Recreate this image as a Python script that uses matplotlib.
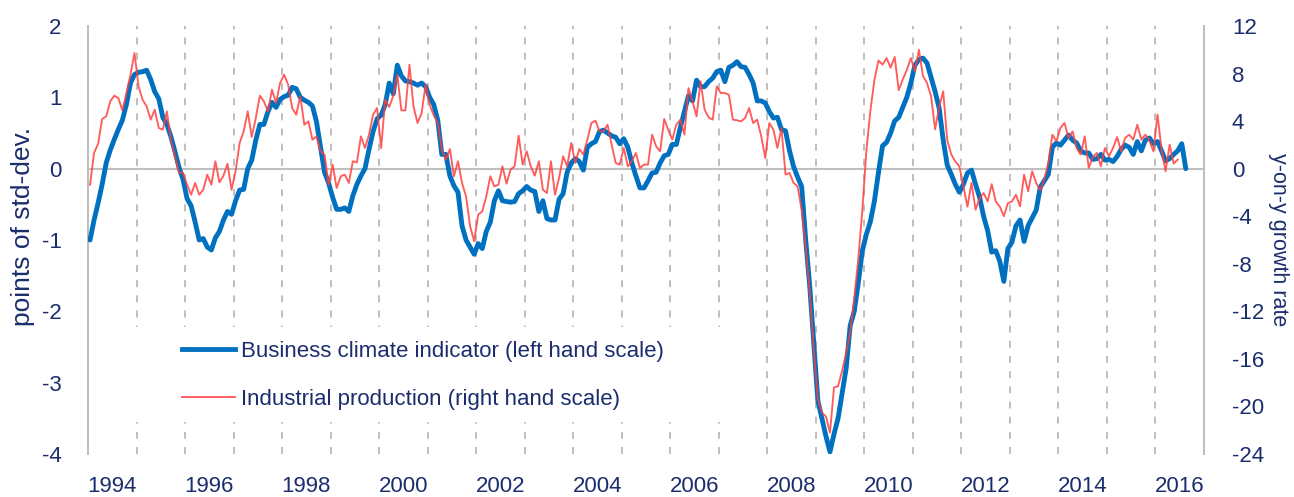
import numpy as np
import matplotlib
matplotlib.use("Agg")
import matplotlib.pyplot as plt
from matplotlib.patches import Rectangle
from matplotlib.lines import Line2D

plt.rcParams['font.family'] = ['Liberation Sans Narrow', 'Liberation Sans', 'DejaVu Sans']
plt.rcParams['axes.unicode_minus'] = False

# monthly series, starting January 1994
start_year = 1994

# business climate indicator, points of std-dev. (left scale)
business_climate = [
    -1.0, -0.72, -0.48, -0.22, 0.08, 0.26, 0.41, 0.55, 0.68, 0.9, 1.2, 1.32,        # 1994
    1.35, 1.36, 1.38, 1.25, 1.08, 0.98, 0.72, 0.62, 0.45, 0.24, 0.02, -0.15,        # 1995
    -0.42, -0.52, -0.75, -1.0, -0.98, -1.1, -1.14, -0.97, -0.88, -0.72, -0.6, -0.64,  # 1996
    -0.45, -0.3, -0.29, 0.0, 0.12, 0.4, 0.62, 0.62, 0.8, 0.93, 0.86, 0.97,          # 1997
    1.01, 1.03, 1.14, 1.12, 1.0, 0.96, 0.93, 0.88, 0.66, 0.3, -0.05, -0.2,          # 1998
    -0.4, -0.57, -0.57, -0.55, -0.6, -0.38, -0.22, -0.1, 0.0, 0.27, 0.52, 0.7,      # 1999
    0.75, 0.9, 1.2, 1.05, 1.45, 1.3, 1.23, 1.22, 1.2, 1.17, 1.2, 1.15,              # 2000
    1.0, 0.9, 0.68, 0.2, 0.2, -0.1, -0.24, -0.33, -0.8, -1.0, -1.1, -1.2,           # 2001
    -1.05, -1.12, -0.88, -0.75, -0.45, -0.31, -0.45, -0.46, -0.47, -0.46, -0.35, -0.31,  # 2002
    -0.25, -0.3, -0.32, -0.6, -0.45, -0.7, -0.72, -0.72, -0.43, -0.35, -0.05, 0.08,  # 2003
    0.14, 0.1, -0.02, 0.3, 0.35, 0.38, 0.52, 0.54, 0.5, 0.46, 0.44, 0.35,           # 2004
    0.42, 0.3, 0.08, -0.1, -0.27, -0.27, -0.17, -0.06, -0.05, 0.08, 0.18, 0.2,      # 2005
    0.34, 0.34, 0.58, 0.8, 1.02, 0.95, 1.24, 1.15, 1.15, 1.22, 1.27, 1.36,          # 2006
    1.38, 1.22, 1.42, 1.45, 1.5, 1.43, 1.42, 1.32, 1.2, 0.95, 0.95, 0.92,           # 2007
    0.8, 0.71, 0.72, 0.55, 0.53, 0.25, 0.03, -0.12, -0.25, -1.0, -1.65, -2.45,      # 2008
    -3.25, -3.5, -3.75, -3.97, -3.72, -3.5, -3.15, -2.8, -2.2, -2.0, -1.6, -1.15,   # 2009
    -0.92, -0.74, -0.45, -0.05, 0.32, 0.37, 0.5, 0.67, 0.72, 0.86, 1.0, 1.2,        # 2010
    1.45, 1.53, 1.55, 1.48, 1.28, 1.08, 0.85, 0.4, 0.05, -0.08, -0.22, -0.33,       # 2011
    -0.22, -0.06, -0.02, -0.22, -0.4, -0.67, -0.87, -1.17, -1.15, -1.3, -1.58, -1.12,  # 2012
    -1.03, -0.8, -0.72, -1.02, -0.8, -0.69, -0.58, -0.26, -0.17, -0.08, 0.3, 0.36,  # 2013
    0.33, 0.4, 0.47, 0.4, 0.36, 0.25, 0.22, 0.22, 0.13, 0.14, 0.2, 0.12,            # 2014
    0.13, 0.1, 0.17, 0.27, 0.33, 0.3, 0.2, 0.38, 0.25, 0.4, 0.43, 0.35,             # 2015
    0.38, 0.25, 0.11, 0.14, 0.2, 0.25, 0.35, 0.0,                                   # 2016
]

# industrial production, y-on-y growth rate in % (right scale)
industrial_production = [
    -1.35, 1.32, 2.1, 4.18, 4.4, 5.66, 6.14, 5.94, 4.9, 6.36, 7.9, 9.73,            # 1994
    6.92, 5.8, 5.24, 4.12, 4.96, 3.42, 3.28, 4.82, 2.44, 1.04, -0.31, -0.36,        # 1995
    -1.35, -2.19, -1.2, -2.19, -1.77, -0.5, -1.35, 0.62, -1.15, -0.59, 0.42, -1.77,  # 1996
    -0.22, 2.16, 3.14, 4.82, 2.66, 4.26, 6.14, 5.66, 4.82, 6.64, 5.52, 7.2,         # 1997
    7.9, 7.07, 5.1, 4.54, 6.08, 3.7, 3.98, 2.44, 2.72, 1.46, 1.18, -1.35,           # 1998
    0.34, -1.63, -0.64, -0.5, -1.2, 0.62, 0.53, 2.72, 1.74, 2.86, 4.54, 5.1,        # 1999
    1.74, 5.8, 5.19, 6.14, 7.9, 4.9, 4.9, 8.75, 5.24, 3.84, 4.68, 7.07,             # 2000
    5.38, 4.5, 3.84, 1.6, 0.76, 1.65, -0.64, 0.62, -1.2, -2.33, -4.85, -6.1,        # 2001
    -3.87, -3.59, -2.33, -0.64, -1.49, -1.35, 0.2, -1.26, -0.08, 0.2, 2.78, 0.34,   # 2002
    1.46, 0.2, -0.59, 0.62, -1.77, -2.05, 0.62, -2.19, -0.78, 1.04, 0.2, 2.16,      # 2003
    0.48, 1.65, 1.18, 2.44, 3.84, 4.04, 3.14, 3.14, 3.7, 2.02, 0.48, 0.34,          # 2004
    1.74, 0.2, 0.62, 1.32, 0.06, 0.34, 0.34, 2.86, 1.88, 1.46, 4.18, 3.28,          # 2005
    2.44, 3.7, 4.12, 2.86, 6.78, 5.66, 4.4, 7.35, 4.96, 4.3, 4.12, 6.92,            # 2006
    6.36, 6.36, 6.22, 4.12, 4.07, 3.98, 4.26, 5.1, 3.84, 4.12, 2.72, 0.9,           # 2007
    3.84, 3.28, 1.74, 3.42, -0.5, -0.36, -1.2, -1.49, -3.5, -6.6, -10.4, -15.3,     # 2008
    -19.4, -20.5, -20.85, -22.2, -18.4, -18.3, -17.0, -15.5, -13.8, -10.9, -7.6, -3.5,  # 2009
    1.5, 4.9, 7.5, 9.1, 8.75, 9.3, 8.5, 9.4, 6.6, 7.5, 8.3, 9.3,                    # 2010
    8.2, 10.0, 7.8, 7.2, 6.1, 3.3, 5.2, 6.5, 2.4, 1.2, 0.6, 0.2,                    # 2011
    -1.5, -3.2, -1.2, -3.45, -2.5, -2.05, -2.75, -1.3, -2.75, -3.2, -4.0, -2.9,     # 2012
    -2.75, -2.2, -3.17, -0.5, -1.9, -0.22, -1.2, -1.82, -0.9, 0.5, 2.86, 2.3,       # 2013
    3.42, 3.84, 2.58, 3.14, 1.74, 1.18, 2.72, 0.06, 0.98, 1.32, 0.2, 1.74,          # 2014
    1.04, 1.74, 2.66, 1.46, 2.58, 2.86, 2.44, 3.7, 2.44, 2.86, 2.38, 1.46,          # 2015
    4.54, 1.6, -0.22, 2.02, 0.42, 0.76,                                             # 2016
]

year_ticks = list(range(1994, 2017, 2))
left_ticks = list(range(-4, 3))
right_ticks = list(range(-24, 13, 4))

legend_labels = ['Business climate indicator (left hand scale)',
                 'Industrial production (right hand scale)']

navy = '#1C2D6E'
blue = '#0070C0'
red = '#FF3F3F'
grey = '#BFBFBF'
tick_fs = 16
legend_fs = 16

W, H = 1294, 497
fig = plt.figure(figsize=(W / 100, H / 100), dpi=100)
ax = fig.add_axes([88 / W, 1 - 454 / H, (1204 - 88) / W, (454 - 26) / H])
ax2 = ax.twinx()

t_bc = start_year + (np.arange(len(business_climate)) + 0.5) / 12
t_ip = start_year + (np.arange(len(industrial_production)) + 0.5) / 12

# year separators and zero line
for yr in range(start_year + 1, 2017):
    ax.axvline(yr, color=grey, lw=1.4, dashes=(3.6, 4.2), zorder=1)
ax.axhline(0, color=grey, lw=1.5, zorder=1.5)

# white box behind the legend hides the gridlines
ax.add_patch(Rectangle((115 / W, 1 - 422 / H), (742 - 115) / W, 95 / H,
                       transform=fig.transFigure, facecolor='white',
                       edgecolor='none', zorder=1.8))

ax.plot(t_bc, business_climate, color=blue, lw=3.5, zorder=3,
        solid_joinstyle='round', solid_capstyle='round')
ax2.plot(t_ip, industrial_production, color=red, lw=1.35, alpha=0.85, zorder=3)

ax.set_xlim(1994, 2017)
ax.set_ylim(-4, 2)
ax2.set_ylim(-24, 12)

ax.set_xticks([y + 0.5 for y in year_ticks])
ax.set_xticklabels([str(y) for y in year_ticks])
ax.set_yticks(left_ticks)
ax.set_yticklabels([str(v) for v in left_ticks])
ax2.set_yticks(right_ticks)
ax2.set_yticklabels([str(v) for v in right_ticks])

ax.tick_params(axis='x', length=0, pad=16, labelsize=tick_fs, labelcolor=navy)
ax.tick_params(axis='y', length=0, pad=19, labelsize=tick_fs, labelcolor=navy)
ax2.tick_params(axis='y', length=0, pad=20, labelsize=tick_fs, labelcolor=navy)

for a in (ax, ax2):
    for s in ('top', 'bottom'):
        a.spines[s].set_visible(False)
ax.spines['right'].set_visible(False)
ax2.spines['left'].set_visible(False)
ax.spines['left'].set_color(grey)
ax.spines['left'].set_linewidth(1.5)
ax2.spines['right'].set_color(grey)
ax2.spines['right'].set_linewidth(1.5)

fig.text(23 / W, 1 - 227 / H, 'points of std-dev.', rotation=90,
         ha='center', va='center', fontsize=19, color=navy)
fig.text(1279 / W, 1 - 240 / H, 'y-on-y growth rate', rotation=270,
         ha='center', va='center', fontsize=15.5, color=navy)

handles = [Line2D([], [], color=blue, lw=3.5),
           Line2D([], [], color=red, lw=1.35, alpha=0.85)]
ax2.legend(handles, legend_labels, loc='upper left',
           bbox_to_anchor=(182 / W, 1 - 341 / H), bbox_transform=fig.transFigure,
           frameon=False, fontsize=legend_fs, labelcolor=navy, handlelength=2.4,
           handletextpad=0.25, labelspacing=1.2, borderpad=0, borderaxespad=0)

fig.savefig('out.png', dpi=100)
